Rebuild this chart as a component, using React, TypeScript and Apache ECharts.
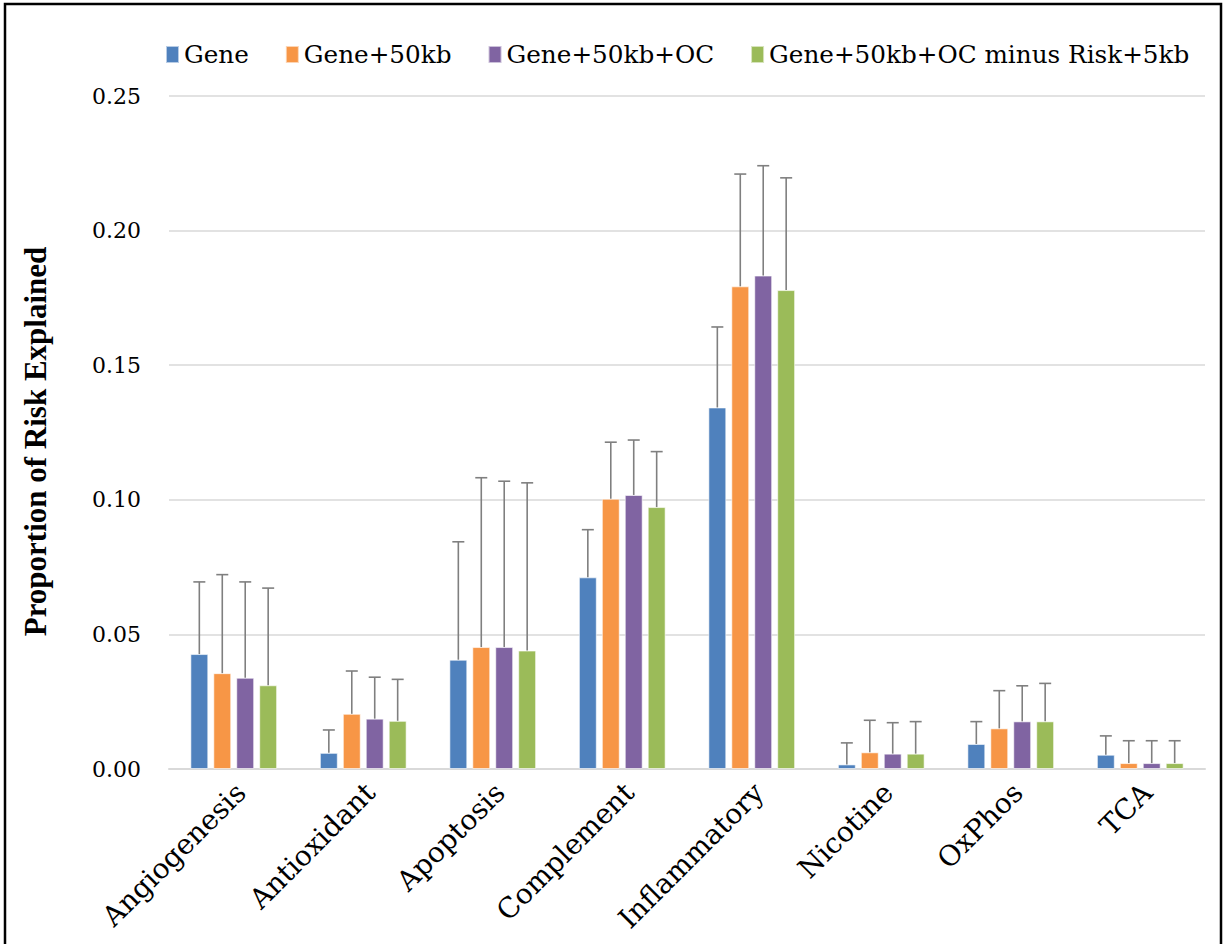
import React, { useEffect, useRef } from "react";
import * as echarts from "echarts";

const categories = [
  "Angiogenesis",
  "Antioxidant",
  "Apoptosis",
  "Complement",
  "Inflammatory",
  "Nicotine",
  "OxPhos",
  "TCA",
];

const seriesNames = [
  "Gene",
  "Gene+50kb",
  "Gene+50kb+OC",
  "Gene+50kb+OC minus Risk+5kb",
];

const colors = ["#4F81BD", "#F79646", "#8064A2", "#9BBB59"];

// Bar heights (proportion of risk explained)
const gene = [0.0427, 0.006, 0.0406, 0.0712, 0.1343, 0.0017, 0.0093, 0.0053];
const gene50kb = [0.0356, 0.0205, 0.0453, 0.1004, 0.1793, 0.0062, 0.0151, 0.0022];
const gene50kbOC = [0.0339, 0.0187, 0.0453, 0.1018, 0.1833, 0.0057, 0.0177, 0.0022];
const gene50kbOCMinus = [0.0311, 0.0179, 0.044, 0.0973, 0.1779, 0.0057, 0.0177, 0.0022];

// Upper ends of the error bars
const geneUpper = [0.0695, 0.0145, 0.0844, 0.0889, 0.1642, 0.0097, 0.0176, 0.0123];
const gene50kbUpper = [0.0722, 0.0364, 0.1082, 0.1214, 0.221, 0.0181, 0.0291, 0.0105];
const gene50kbOCUpper = [0.0695, 0.0341, 0.1069, 0.1222, 0.2241, 0.0172, 0.0309, 0.0105];
const gene50kbOCMinusUpper = [0.0672, 0.0333, 0.1063, 0.1179, 0.2196, 0.0176, 0.0318, 0.0105];

const yTicks = { min: 0, max: 0.25, interval: 0.05 };

const values = [gene, gene50kb, gene50kbOC, gene50kbOCMinus];
const uppers = [geneUpper, gene50kbUpper, gene50kbOCUpper, gene50kbOCMinusUpper];

const CATEGORY_GAP = 0.33;
const BAR_GAP = 0.28;

export default function App() {
  const ref = useRef<HTMLDivElement>(null);

  useEffect(() => {
    if (!ref.current) return;
    const chart = echarts.init(ref.current, undefined, { renderer: "svg" });

    const errorData: number[][] = [];
    values.forEach((vals, s) => {
      vals.forEach((v, c) => {
        errorData.push([c, uppers[s][c], s, v]);
      });
    });

    const n = seriesNames.length;

    const option: any = {
      animation: false,
      backgroundColor: "#ffffff",
      textStyle: { fontFamily: "DejaVu Serif" },
      legend: {
        data: seriesNames,
        left: 160,
        top: 37,
        itemWidth: 13,
        itemHeight: 17,
        itemGap: 36,
        icon: "rect",
        textStyle: { fontFamily: "DejaVu Serif", fontSize: 24.7, color: "#000" },
      },
      grid: { left: 169, right: 20, top: 96, bottom: 175, containLabel: false },
      xAxis: {
        type: "category",
        data: categories,
        axisLine: { show: true, lineStyle: { color: "#d9d9d9", width: 2 } },
        axisTick: { show: false },
        axisLabel: {
          rotate: 45,
          margin: 26,
          interval: 0,
          fontFamily: "DejaVu Serif",
          fontSize: 28,
          color: "#000",
          padding: [0, -10, 0, 0],
        },
      },
      yAxis: {
        type: "value",
        min: yTicks.min,
        max: yTicks.max,
        interval: yTicks.interval,
        name: "Proportion of Risk Explained",
        nameLocation: "middle",
        nameGap: 118,
        nameTextStyle: {
          fontFamily: "Liberation Serif",
          fontWeight: "bold",
          fontSize: 31,
          color: "#000",
          padding: [0, 18, 0, 0],
        },
        axisLine: { show: false },
        axisTick: { show: false },
        axisLabel: {
          margin: 28,
          fontFamily: "DejaVu Serif",
          fontSize: 22,
          color: "#000",
          formatter: (v: number) => v.toFixed(2),
        },
        splitLine: { lineStyle: { color: "#d9d9d9", width: 1.5 } },
      },
      graphic: [
        {
          type: "rect",
          shape: { x: 5, y: 4, width: 1216, height: 960 },
          style: { fill: "none", stroke: "#000", lineWidth: 2.5 },
          silent: true,
          z: 100,
        },
      ],
      series: [
        ...seriesNames.map((name, i) => ({
          name,
          type: "bar",
          data: values[i],
          itemStyle: { color: colors[i], borderColor: "rgba(255,255,255,0.6)", borderWidth: 1 },
          barCategoryGap: `${CATEGORY_GAP * 100}%`,
          barGap: `${BAR_GAP * 100}%`,
        })),
        {
          name: "errors",
          type: "custom",
          data: errorData,
          encode: { x: 0, y: 1 },
          z: 10,
          renderItem: (params: any, api: any) => {
            const cat = api.value(0);
            const upper = api.value(1);
            const s = api.value(2);
            const v = api.value(3);
            const band = api.size([1, 0])[0];
            const groupWidth = band * (1 - CATEGORY_GAP);
            const barW = groupWidth / (n + (n - 1) * BAR_GAP);
            const centerPt = api.coord([cat, v]);
            const topPt = api.coord([cat, upper]);
            const x = centerPt[0] - groupWidth / 2 + s * barW * (1 + BAR_GAP) + barW / 2;
            const cap = 6;
            const style = { stroke: "#7f7f7f", lineWidth: 1.6 };
            return {
              type: "group",
              children: [
                { type: "line", shape: { x1: x, y1: centerPt[1], x2: x, y2: topPt[1] }, style },
                { type: "line", shape: { x1: x - cap, y1: topPt[1], x2: x + cap, y2: topPt[1] }, style },
              ],
            };
          },
        },
      ],
    };

    chart.setOption(option);
    return () => chart.dispose();
  }, []);

  return (
    <div
      ref={ref}
      style={{ position: "fixed", left: 0, top: 0, width: 1225, height: 944, background: "#fff" }}
    />
  );
}
